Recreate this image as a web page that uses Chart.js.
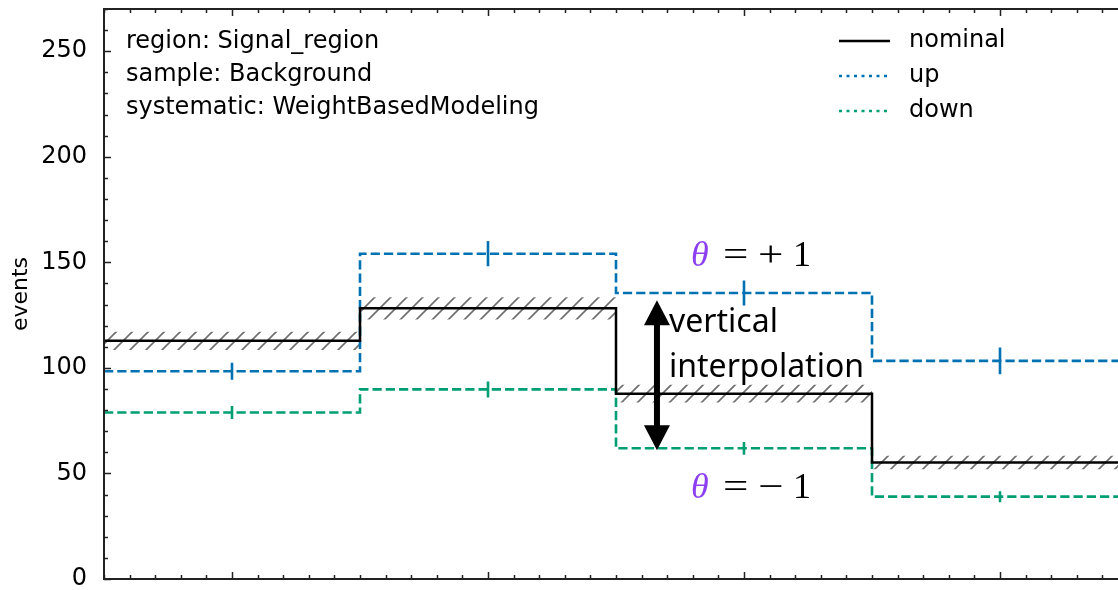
<!DOCTYPE html>
<html>
<head>
<meta charset="utf-8">
<script src="https://cdn.jsdelivr.net/npm/chart.js@4/dist/chart.umd.min.js"></script>
<style>
  html, body { margin: 0; padding: 0; background: #fff; overflow: hidden; width: 1118px; height: 590px; }
  #wrap { width: 1140px; height: 590px; }
</style>
</head>
<body>
<div id="wrap"><canvas id="c" width="1140" height="590"></canvas></div>
<script>
// ---- data ----
const binEdges = [0, 1, 2, 3, 4];
const nominal = [112.8, 128.2, 87.8, 55.2];
const nominalUnc = [4.3, 5.3, 4.2, 3.2];
const upValues = [98.4, 154.1, 135.5, 103.3];
const upErr = [4.0, 6.0, 5.9, 6.3];
const downValues = [78.9, 89.8, 61.9, 39.0];
const downErr = [3.1, 3.8, 3.0, 2.6];
const yTicks = [0, 50, 100, 150, 200, 250];
const infoLines = ["region: Signal_region", "sample: Background", "systematic: WeightBasedModeling"];
const legendLabels = ["nominal", "up", "down"];

const BLUE = '#0072B2';
const GREEN = '#009E73';

function stepData(vals) {
  return binEdges.map((x, i) => ({ x: x, y: vals[Math.min(i, vals.length - 1)] }));
}
function errData(vals, errs) {
  const out = [];
  vals.forEach((v, i) => {
    const xc = (binEdges[i] + binEdges[i + 1]) / 2;
    out.push({ x: xc, y: v - errs[i] }, { x: xc, y: v + errs[i] }, { x: xc, y: null });
  });
  return out;
}

// hatch pattern
function hatchPattern() {
  const s = 16;
  const pc = document.createElement('canvas');
  pc.width = s; pc.height = s;
  const g = pc.getContext('2d');
  g.strokeStyle = '#707070';
  g.lineWidth = 1.7;
  g.beginPath();
  g.moveTo(0, s); g.lineTo(s, 0);
  g.moveTo(-s / 2, s / 2); g.lineTo(s / 2, -s / 2);
  g.moveTo(s / 2, s + s / 2); g.lineTo(s + s / 2, s / 2);
  g.stroke();
  return document.getElementById('c').getContext('2d').createPattern(pc, 'repeat');
}

const lower = nominal.map((v, i) => v - nominalUnc[i]);
const upper = nominal.map((v, i) => v + nominalUnc[i]);

const decoPlugin = {
  id: 'deco',
  afterDatasetsDraw(chart) {
    const ctx = chart.ctx;
    const a = chart.chartArea;
    const xs = chart.scales.x, ys = chart.scales.y;
    ctx.save();
    // frame
    ctx.strokeStyle = '#222';
    ctx.lineWidth = 2;
    ctx.strokeRect(a.left, a.top, a.right - a.left, a.bottom - a.top);
    // y ticks
    ctx.lineWidth = 1.5;
    ctx.beginPath();
    for (let v = 0; v <= ys.max + 1e-9; v += 10) {
      const y = Math.round(ys.getPixelForValue(v)) + 0.5;
      const len = (Math.round(v) % 50 === 0) ? 7 : 4;
      ctx.moveTo(a.left, y); ctx.lineTo(a.left + len, y);
      ctx.moveTo(a.right, y); ctx.lineTo(a.right - len, y);
    }
    // x ticks
    for (let k = 0; k <= 40; k++) {
      const v = k / 10;
      const x = Math.round(xs.getPixelForValue(v)) + 0.5;
      const len = (k % 10 === 5) ? 7 : 4;
      ctx.moveTo(x, a.bottom); ctx.lineTo(x, a.bottom - len);
      ctx.moveTo(x, a.top); ctx.lineTo(x, a.top + len);
    }
    ctx.stroke();

    // info text
    ctx.fillStyle = '#000';
    ctx.font = '24px "DejaVu Sans"';
    ctx.textBaseline = 'middle';
    ctx.textAlign = 'left';
    infoLines.forEach((t, i) => ctx.fillText(t, 126, 42 + i * 33));

    // legend
    const ly = [41, 76, 111];
    const styles = [
      { c: '#000', w: 2.5, d: [] },
      { c: BLUE, w: 2.6, d: [3, 4.5] },
      { c: GREEN, w: 2.6, d: [3, 4.5] }
    ];
    legendLabels.forEach((t, i) => {
      ctx.strokeStyle = styles[i].c;
      ctx.lineWidth = styles[i].w;
      ctx.setLineDash(styles[i].d);
      ctx.beginPath();
      ctx.moveTo(839, ly[i]); ctx.lineTo(890, ly[i]);
      ctx.stroke();
      ctx.setLineDash([]);
      ctx.fillStyle = '#000';
      ctx.fillText(t, 909, ly[i]);
    });

    // arrow (vertical interpolation)
    const ax = xs.getPixelForValue(2.16);
    const yTop = ys.getPixelForValue(132.0);
    const yBot = ys.getPixelForValue(61.0);
    const hl = 25, hw = 13, sw = 6;
    ctx.fillStyle = '#000';
    ctx.beginPath();
    ctx.moveTo(ax, yTop);
    ctx.lineTo(ax + hw, yTop + hl);
    ctx.lineTo(ax + sw / 2, yTop + hl);
    ctx.lineTo(ax + sw / 2, yBot - hl);
    ctx.lineTo(ax + hw, yBot - hl);
    ctx.lineTo(ax, yBot);
    ctx.lineTo(ax - hw, yBot - hl);
    ctx.lineTo(ax - sw / 2, yBot - hl);
    ctx.lineTo(ax - sw / 2, yTop + hl);
    ctx.lineTo(ax - hw, yTop + hl);
    ctx.closePath();
    ctx.fill();

    ctx.font = '32px "Noto Sans"';
    ctx.textBaseline = 'alphabetic';
    ctx.fillText('vertical', 669, 332);
    ctx.fillText('interpolation', 669, 377);

    // theta labels
    function thetaLabel(y, sign) {
      ctx.textBaseline = 'alphabetic';
      ctx.font = 'italic 36px "Liberation Serif"';
      ctx.fillStyle = '#8B3FF0';
      ctx.fillText('θ', 691, y);
      ctx.fillStyle = '#000';
      ctx.font = '36px "Liberation Serif"';
      ctx.save();
      ctx.scale(1.25, 1);
      ctx.fillText('=', 723 / 1.25, y);
      ctx.fillText(sign, 758 / 1.25, y);
      ctx.restore();
      ctx.fillText('1', 793, y);
    }
    thetaLabel(266, '+');
    thetaLabel(498, '\u2212');
    ctx.restore();
  }
};

new Chart(document.getElementById('c'), {
  type: 'line',
  data: {
    datasets: [
      { label: 'nominal', data: stepData(nominal), stepped: 'before', borderColor: '#000', borderWidth: 2.5,
        pointRadius: 0, fill: false, order: 0 },
      { label: 'up', data: stepData(upValues), stepped: 'before', borderColor: BLUE, borderWidth: 2.6,
        borderDash: [9.25, 4], pointRadius: 0, fill: false, order: 1 },
      { label: 'down', data: stepData(downValues), stepped: 'before', borderColor: GREEN, borderWidth: 2.6,
        borderDash: [9.25, 4], pointRadius: 0, fill: false, order: 1 },
      { label: 'up err', data: errData(upValues, upErr), borderColor: BLUE, borderWidth: 2.6,
        pointRadius: 0, spanGaps: false, fill: false, order: 1 },
      { label: 'down err', data: errData(downValues, downErr), borderColor: GREEN, borderWidth: 2.6,
        pointRadius: 0, spanGaps: false, fill: false, order: 1 },
      { label: 'unc low', data: stepData(lower), stepped: 'before', borderWidth: 0, borderColor: 'rgba(0,0,0,0)',
        pointRadius: 0, fill: false, order: 3 },
      { label: 'unc high', data: stepData(upper), stepped: 'before', borderWidth: 0, borderColor: 'rgba(0,0,0,0)',
        pointRadius: 0, fill: '-1', backgroundColor: hatchPattern(), order: 2 }
    ]
  },
  options: {
    responsive: false,
    devicePixelRatio: 1,
    animation: false,
    events: [],
    layout: { padding: { top: 9, right: 12, left: 0, bottom: 0 } },
    plugins: { legend: { display: false }, tooltip: { enabled: false }, filler: { propagate: false } },
    scales: {
      x: {
        type: 'linear', min: 0, max: 4,
        grid: { display: false }, border: { display: false },
        ticks: { display: false },
        afterFit(s) { s.height = 11; s.paddingLeft = 0; s.paddingRight = 0; }
      },
      y: {
        type: 'linear', min: 0, max: 270,
        grid: { display: false, drawTicks: false }, border: { display: false },
        afterBuildTicks(s) { s.ticks = yTicks.map(v => ({ value: v })); },
        ticks: { color: '#000', padding: 17, font: { family: 'DejaVu Sans', size: 24 } },
        title: { display: true, text: 'events', color: '#000', padding: { top: 8, bottom: 0 },
                 font: { family: 'DejaVu Sans', size: 22 } },
        afterFit(s) { s.width = 104; s.paddingTop = 0; s.paddingBottom = 0; }
      }
    }
  },
  plugins: [decoPlugin]
});
</script>
</body>
</html>
